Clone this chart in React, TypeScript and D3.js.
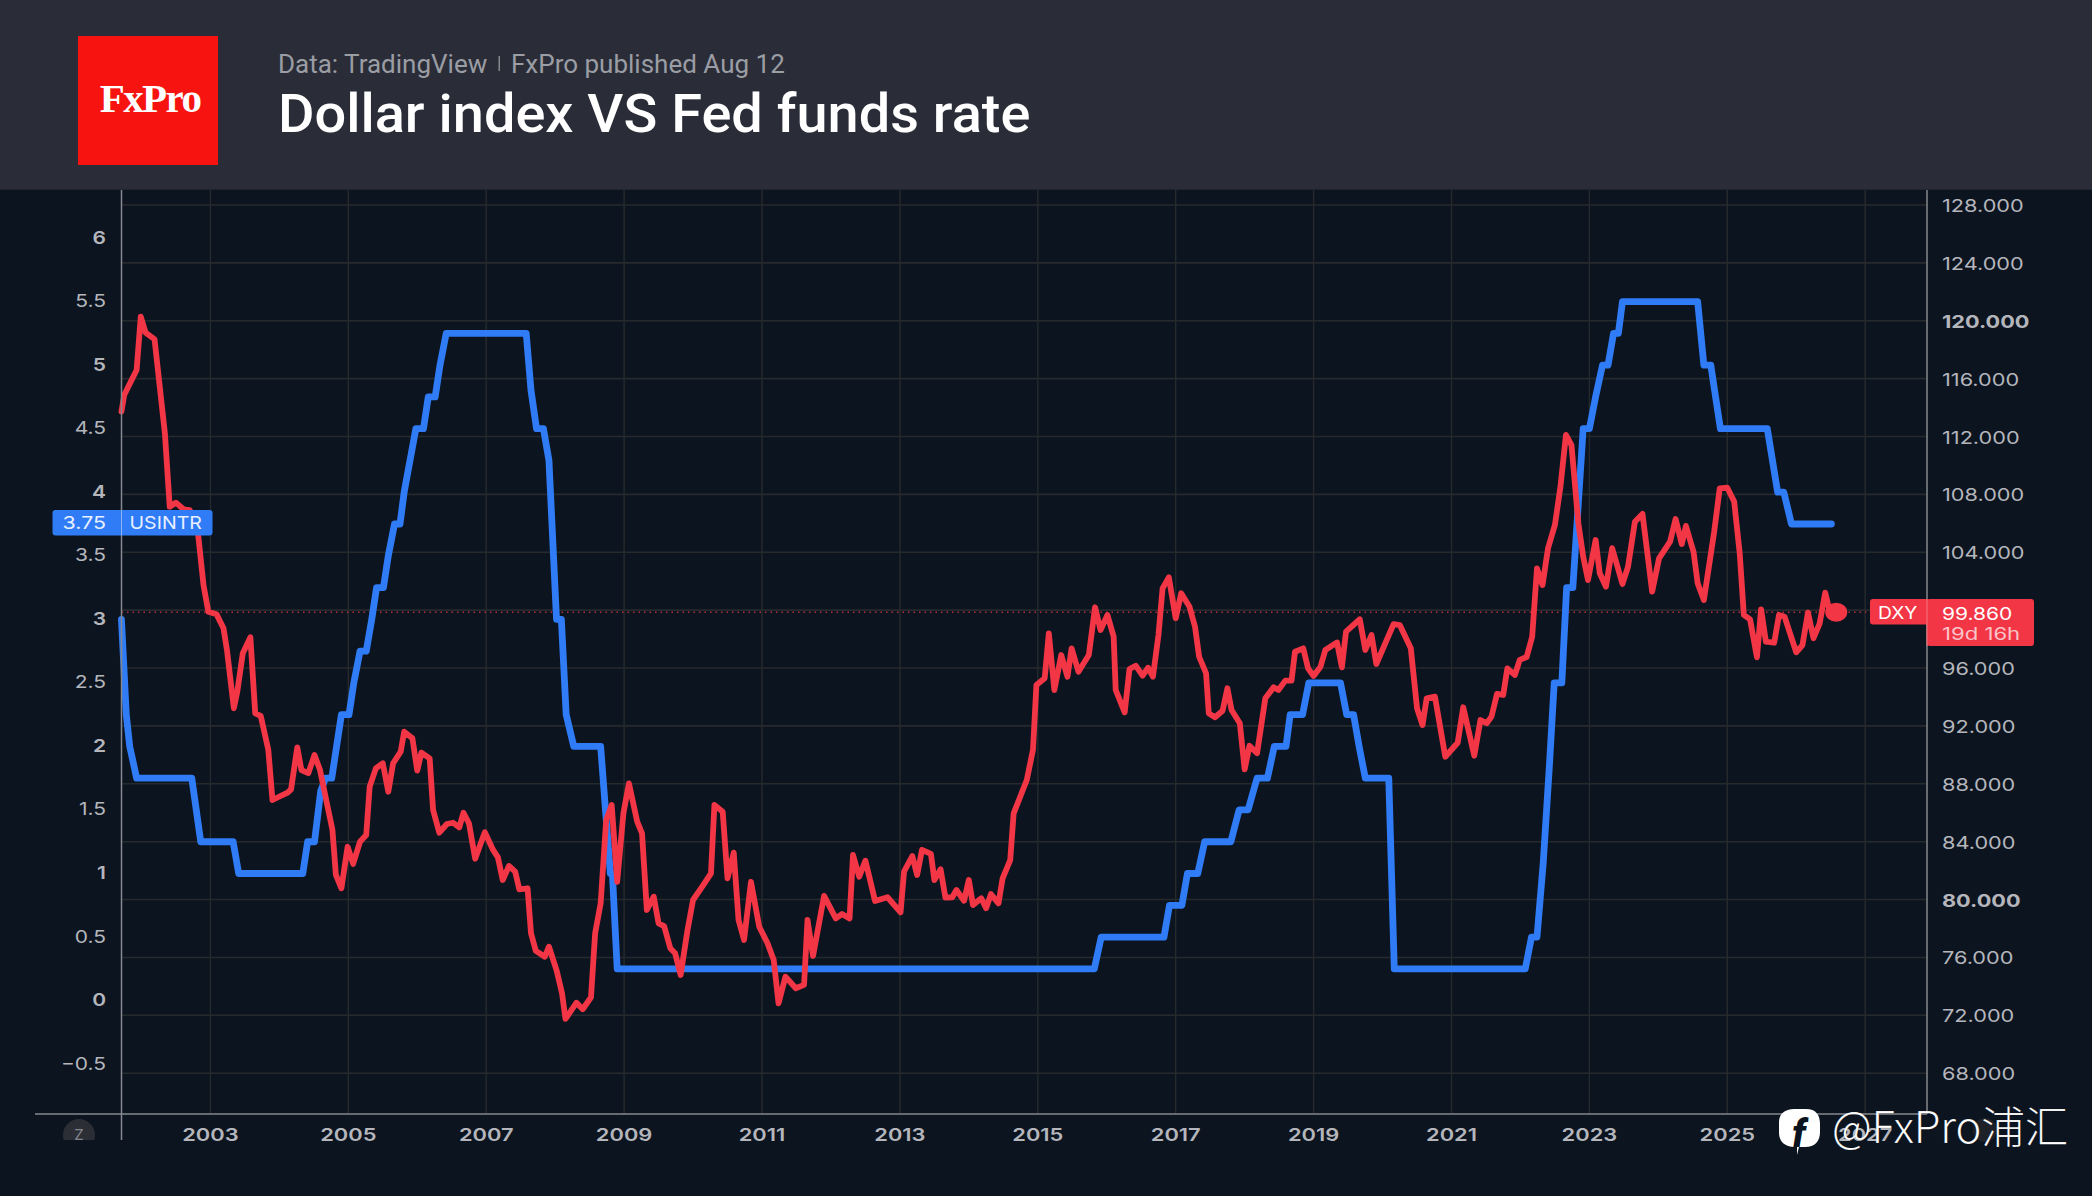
import React from "react";
import * as d3 from "d3";

const dxyDates = [2001.71,2001.75,2001.93,2001.99,2002.06,2002.19,2002.34,2002.41,2002.50,2002.61,2002.70,2002.82,2002.90,2002.97,2003.09,2003.19,2003.24,2003.34,2003.39,2003.47,2003.58,2003.65,2003.73,2003.84,2003.90,2003.98,2004.12,2004.17,2004.26,2004.32,2004.42,2004.51,2004.59,2004.71,2004.77,2004.82,2004.90,2004.99,2005.07,2005.17,2005.26,2005.31,2005.40,2005.50,2005.58,2005.65,2005.76,2005.81,2005.93,2006.00,2006.06,2006.18,2006.23,2006.32,2006.43,2006.52,2006.61,2006.67,2006.75,2006.84,2006.98,2007.10,2007.17,2007.24,2007.33,2007.42,2007.48,2007.60,2007.65,2007.72,2007.85,2007.91,2008.02,2008.10,2008.15,2008.31,2008.40,2008.52,2008.58,2008.66,2008.74,2008.82,2008.90,2008.99,2009.07,2009.19,2009.26,2009.33,2009.43,2009.50,2009.58,2009.67,2009.74,2009.82,2009.92,2010.00,2010.15,2010.26,2010.31,2010.43,2010.50,2010.59,2010.66,2010.74,2010.84,2010.96,2011.08,2011.17,2011.24,2011.34,2011.49,2011.61,2011.66,2011.74,2011.90,2012.07,2012.16,2012.27,2012.32,2012.41,2012.50,2012.64,2012.82,2013.01,2013.06,2013.18,2013.25,2013.32,2013.45,2013.50,2013.59,2013.66,2013.76,2013.82,2013.93,2014.00,2014.06,2014.18,2014.25,2014.32,2014.43,2014.49,2014.60,2014.65,2014.84,2014.93,2014.98,2015.10,2015.16,2015.24,2015.34,2015.43,2015.49,2015.59,2015.74,2015.83,2015.91,2016.01,2016.10,2016.13,2016.26,2016.33,2016.42,2016.52,2016.60,2016.67,2016.75,2016.81,2016.90,2017.00,2017.08,2017.20,2017.28,2017.34,2017.44,2017.48,2017.57,2017.68,2017.75,2017.81,2017.93,2018.00,2018.07,2018.18,2018.30,2018.42,2018.49,2018.59,2018.68,2018.73,2018.85,2018.92,2019.00,2019.10,2019.17,2019.34,2019.41,2019.47,2019.67,2019.75,2019.84,2019.91,2020.16,2020.25,2020.41,2020.50,2020.58,2020.64,2020.76,2020.91,2021.09,2021.17,2021.33,2021.42,2021.51,2021.58,2021.66,2021.75,2021.81,2021.92,2021.99,2022.09,2022.17,2022.24,2022.32,2022.40,2022.50,2022.58,2022.66,2022.74,2022.84,2022.91,2022.98,2023.09,2023.15,2023.24,2023.33,2023.48,2023.56,2023.66,2023.77,2023.91,2024.01,2024.17,2024.25,2024.34,2024.40,2024.51,2024.57,2024.66,2024.81,2024.89,2025.00,2025.10,2025.18,2025.24,2025.33,2025.43,2025.49,2025.56,2025.68,2025.75,2025.83,2026.00,2026.09,2026.17,2026.25,2026.34,2026.42,2026.49,2026.58];
const dxyValues = [113.72,114.87,116.60,120.28,119.18,118.72,112.22,107.15,107.43,106.97,106.92,105.33,101.74,99.89,99.71,98.75,97.25,93.22,94.37,97.02,98.13,92.87,92.69,90.34,86.88,87.07,87.39,87.62,90.52,88.95,88.73,89.99,88.95,86.19,84.81,81.70,80.78,83.65,82.46,84.00,84.46,87.80,89.07,89.42,87.45,89.42,90.22,91.60,91.14,88.91,90.15,89.76,86.19,84.62,85.22,85.31,84.99,86.00,85.27,82.82,84.65,83.43,82.92,81.35,82.32,81.93,80.71,80.78,77.67,76.45,76.05,76.74,75.13,73.52,71.75,72.87,72.42,73.25,77.67,79.74,85.50,86.54,81.23,85.96,88.03,85.38,84.58,79.28,80.20,78.36,78.17,76.63,76.29,74.79,77.90,79.97,81.01,81.81,86.54,86.07,81.47,83.24,78.59,77.21,81.23,78.12,76.98,75.82,72.83,74.67,73.87,74.10,78.59,76.10,80.25,78.70,79.00,78.70,83.08,81.58,82.69,79.90,80.16,79.12,81.93,83.01,81.70,83.43,83.15,81.35,82.09,80.13,80.16,80.66,79.92,81.35,79.62,80.09,79.40,80.38,79.74,81.47,82.73,85.96,88.26,90.34,94.83,95.29,98.40,94.48,96.90,95.40,97.36,95.75,96.90,100.20,98.63,99.67,98.17,94.48,92.94,95.93,96.16,95.47,96.02,95.40,98.28,101.51,102.27,99.44,101.17,100.24,98.86,96.78,95.64,92.87,92.60,93.05,94.60,93.10,92.18,89.00,90.63,90.11,93.91,94.67,94.48,95.13,95.13,97.13,97.36,95.98,95.45,96.09,97.25,97.77,96.05,98.51,99.37,97.25,98.28,96.28,99.04,98.97,97.36,93.22,92.06,93.91,94.02,89.87,90.84,93.29,89.94,92.41,92.18,92.64,94.21,94.14,95.98,95.52,96.56,96.76,98.17,102.89,101.74,104.28,105.89,108.53,112.11,111.41,106.00,103.70,102.08,104.85,102.55,101.62,104.28,101.81,103.00,106.11,106.65,101.28,103.58,104.73,106.30,104.57,105.82,104.04,101.86,100.70,105.42,108.42,108.46,107.50,103.93,99.67,99.37,96.74,100.06,97.82,97.75,99.67,99.55,97.09,97.59,99.83,98.06,99.09,101.21,99.83,99.86];

const rateDates = [2001.71,2001.78,2001.83,2001.93,2002.73,2002.86,2003.33,2003.41,2004.34,2004.41,2004.51,2004.60,2004.67,2004.76,2004.83,2004.90,2005.01,2005.08,2005.17,2005.26,2005.34,2005.41,2005.51,2005.58,2005.67,2005.75,2005.81,2005.98,2006.09,2006.16,2006.26,2006.33,2006.42,2007.58,2007.65,2007.73,2007.83,2007.91,2008.02,2008.09,2008.16,2008.27,2008.66,2008.80,2008.83,2008.90,2015.82,2015.92,2016.83,2016.91,2017.09,2017.17,2017.32,2017.42,2017.80,2017.92,2018.05,2018.18,2018.33,2018.43,2018.60,2018.66,2018.84,2018.93,2019.39,2019.48,2019.58,2019.66,2019.75,2020.09,2020.17,2022.07,2022.16,2022.24,2022.33,2022.42,2022.49,2022.60,2022.67,2022.76,2022.91,2023.00,2023.09,2023.19,2023.27,2023.35,2023.42,2023.48,2024.57,2024.66,2024.76,2024.90,2025.58,2025.73,2025.82,2025.93,2026.51];
const rateValues = [3,2.25,2,1.75,1.75,1.25,1.25,1,1,1.25,1.25,1.65,1.75,1.75,2,2.25,2.25,2.5,2.75,2.75,3,3.25,3.25,3.5,3.75,3.75,4,4.5,4.5,4.75,4.75,5,5.25,5.25,4.8,4.5,4.5,4.25,3,3,2.25,2,2,1,1,0.25,0.25,0.5,0.5,0.75,0.75,1,1,1.25,1.25,1.5,1.5,1.75,1.75,2,2,2.25,2.25,2.5,2.5,2.25,2.25,2,1.75,1.75,0.25,0.25,0.5,0.5,1.08,1.85,2.5,2.5,3.25,3.25,4.5,4.5,4.75,5,5,5.25,5.25,5.5,5.5,5,5,4.5,4.5,4,4,3.75,3.75];

const yearTicks = [2003,2005,2007,2009,2011,2013,2015,2017,2019,2021,2023,2025,2027];
const leftTicks = [6,5.5,5,4.5,4,3.5,3,2.5,2,1.5,1,0.5,0,-0.5];
const rightTicks = [128,124,120,116,112,108,104,100,96,92,88,84,80,76,72,68];
const boldRight = [120,80];
const lastRate = 3.75;
const lastDxy = 99.86;

const BG = "#0c1420";
const RED = "#f23645";
const BLUE = "#2f7cf6";
const GRID = "#272a2c";
const AXIS = "#85888e";
const LABEL = "#b4b6bc";
const FONT = "Inter, Roboto, sans-serif";

const x = d3.scaleLinear().domain([2003, 2025]).range([210.4, 1727.3]);
const yL = d3.scaleLinear().domain([0, 6]).range([1000.6, 238]);
const yR = d3.scaleLinear().domain([68, 128]).range([1073.2, 205]);

const plotL = 121.5, plotR = 1927, plotT = 190, plotB = 1114;

function Stretched({ px, py, sx = 1.2, children, ...rest }: any) {
  return <text transform={`translate(${px},${py}) scale(${sx},1)`} {...rest}>{children}</text>;
}

export default function App() {
  const dxyLine = d3.line<number>().x((_, i) => x(dxyDates[i])).y((d) => yR(d));
  const rateLine = d3.line<number>().x((_, i) => x(rateDates[i])).y((d) => yL(d));
  const endX = x(dxyDates[dxyDates.length - 1]);
  const lastY = yR(lastDxy);
  const rateY = yL(lastRate);
  return (
    <svg width={2092} height={1196} viewBox="0 0 2092 1196" style={{ position: "absolute", left: 0, top: 0, display: "block" }}>
      <rect width={2092} height={1196} fill={BG} />
      <rect width={2092} height={189} fill="#2a2d38" />
      <line x1={0} x2={2092} y1={189.5} y2={189.5} stroke="#20242e" />
      <rect x={78} y={36} width={140} height={129} fill="#f7130f" />
      <Stretched px={150} py={112} sx={1} textAnchor="middle" fontFamily="'Liberation Serif', serif" fontWeight={700} fontSize={41} letterSpacing={-1.6} fill="#fff">FxPro</Stretched>
      <text x={278} y={73} fontFamily="Roboto, sans-serif" fontSize={26} fill="#9b9da4">Data: TradingView</text>
      <rect x={498.5} y={56} width={1.5} height={15} fill="#85878e" />
      <text x={511} y={73} fontFamily="Roboto, sans-serif" fontSize={26} fill="#9b9da4">FxPro published Aug 12</text>
      <Stretched px={278} py={132} sx={1.055} fontFamily="Roboto, sans-serif" fontWeight={500} fontSize={53} fill="#ffffff">Dollar index VS Fed funds rate</Stretched>

      {rightTicks.map((t) => (
        <line key={t} x1={plotL} x2={plotR} y1={yR(t)} y2={yR(t)} stroke={GRID} strokeWidth={1.6} />
      ))}
      {yearTicks.map((t) => (
        <line key={t} x1={x(t)} x2={x(t)} y1={plotT} y2={plotB} stroke={GRID} strokeWidth={1.4} />
      ))}

      <line x1={plotL} x2={endX + 30} y1={lastY} y2={lastY} stroke={RED} strokeOpacity={0.75} strokeWidth={1.5} strokeDasharray="1.5 4" />

      <path d={rateLine(rateValues) ?? ""} fill="none" stroke={BLUE} strokeWidth={6.8} strokeLinejoin="round" strokeLinecap="round" />
      <path d={dxyLine(dxyValues) ?? ""} fill="none" stroke={RED} strokeWidth={5.8} strokeLinejoin="round" strokeLinecap="round" />
      <ellipse cx={endX} cy={lastY} rx={11} ry={9.5} fill={RED} />

      <line x1={plotL} x2={plotL} y1={plotT} y2={1140} stroke={AXIS} strokeWidth={1.5} />
      <line x1={plotR} x2={plotR} y1={plotT} y2={plotB} stroke={AXIS} strokeWidth={1.5} />
      <line x1={35} x2={plotR} y1={plotB} y2={plotB} stroke={AXIS} strokeWidth={1.5} />

      {leftTicks.map((t) => (
        <Stretched key={t} px={106} py={yL(t) + 5.5} textAnchor="end" fontFamily={FONT} fontSize={17.5}
          fontWeight={Number.isInteger(t) ? 600 : 400} fill={LABEL}>
          {t < 0 ? "\u2212" + Math.abs(t) : String(t)}
        </Stretched>
      ))}
      {rightTicks.filter((t) => t !== 100).map((t) => (
        <Stretched key={t} px={1942} py={yR(t) + 7} sx={1.24} fontFamily={FONT} fontSize={17.5}
          fontWeight={boldRight.includes(t) ? 700 : 400} fill={LABEL}>
          {t.toFixed(3)}
        </Stretched>
      ))}
      <g>
        {yearTicks.map((t) => (
          <Stretched key={t} px={x(t)} py={1141} sx={1.25} textAnchor="middle" fontFamily={FONT} fontSize={17.5} fontWeight={600} fill={LABEL}>
            {t}
          </Stretched>
        ))}
      </g>

      <clipPath id="zclip"><rect x={50} y={1110} width={60} height={30} /></clipPath>
      <circle cx={79} cy={1135} r={16} fill="#2b2f35" clipPath="url(#zclip)" />
      <text x={79} y={1140} textAnchor="middle" fontFamily={FONT} fontSize={15} fill="#83868c">Z</text>
      <circle cx={1985} cy={1130} r={12} fill="#1e2228" />

      <rect x={52.5} y={510} width={160} height={25.5} rx={3} fill={BLUE} />
      <line x1={plotL} x2={plotL} y1={510} y2={535.5} stroke="#8eb4ee" strokeWidth={1} />
      <Stretched px={106} py={rateY + 5.5} textAnchor="end" sx={1.22} fontFamily={FONT} fontSize={17.5} fill="#e8f0ff">{lastRate.toFixed(2)}</Stretched>
      <Stretched px={129.5} py={rateY + 5.5} sx={1.12} fontFamily={FONT} fontSize={17.5} fill="#e8f0ff">USINTR</Stretched>

      <rect x={1870} y={599} width={60} height={25.5} rx={3} fill={RED} />
      <rect x={1927} y={599} width={107} height={47} rx={3} fill={RED} />
      <line x1={plotR} x2={plotR} y1={599} y2={646} stroke="#f2747f" strokeWidth={1} />
      <Stretched px={1878} py={619} sx={1.1} fontFamily={FONT} fontSize={17.5} fill="#fff">DXY</Stretched>
      <Stretched px={1942} py={619.5} sx={1.2} fontFamily={FONT} fontSize={17.5} fill="#fff">{lastDxy.toFixed(3)}</Stretched>
      <Stretched px={1942} py={640} sx={1.3} fontFamily={FONT} fontSize={17} fill="#f9c4c9">19d 16h</Stretched>

      <path d="M1794 1109 H1806 C1816 1109 1820 1115 1820 1124 V1132 C1820 1141 1815 1147 1805 1147 H1799 L1797 1155 L1797 1147 C1786 1148 1779 1142 1779 1133 V1122 C1779 1114 1785 1109 1794 1109 Z" fill="#ffffff" />
      <text x={1799} y={1147} textAnchor="middle" fontFamily="Roboto, sans-serif" fontWeight={900} fontStyle="italic" fontSize={38} fill="#0c1420">f</text>
      <text x={1832} y={1143} fontFamily="'Noto Sans CJK SC', 'Noto Sans', sans-serif" fontWeight={300} fontSize={43.5} fill="#ffffff"
        stroke="#000" strokeOpacity={0.25} strokeWidth={0.4}>@FxPro浦汇</text>
    </svg>
  );
}
